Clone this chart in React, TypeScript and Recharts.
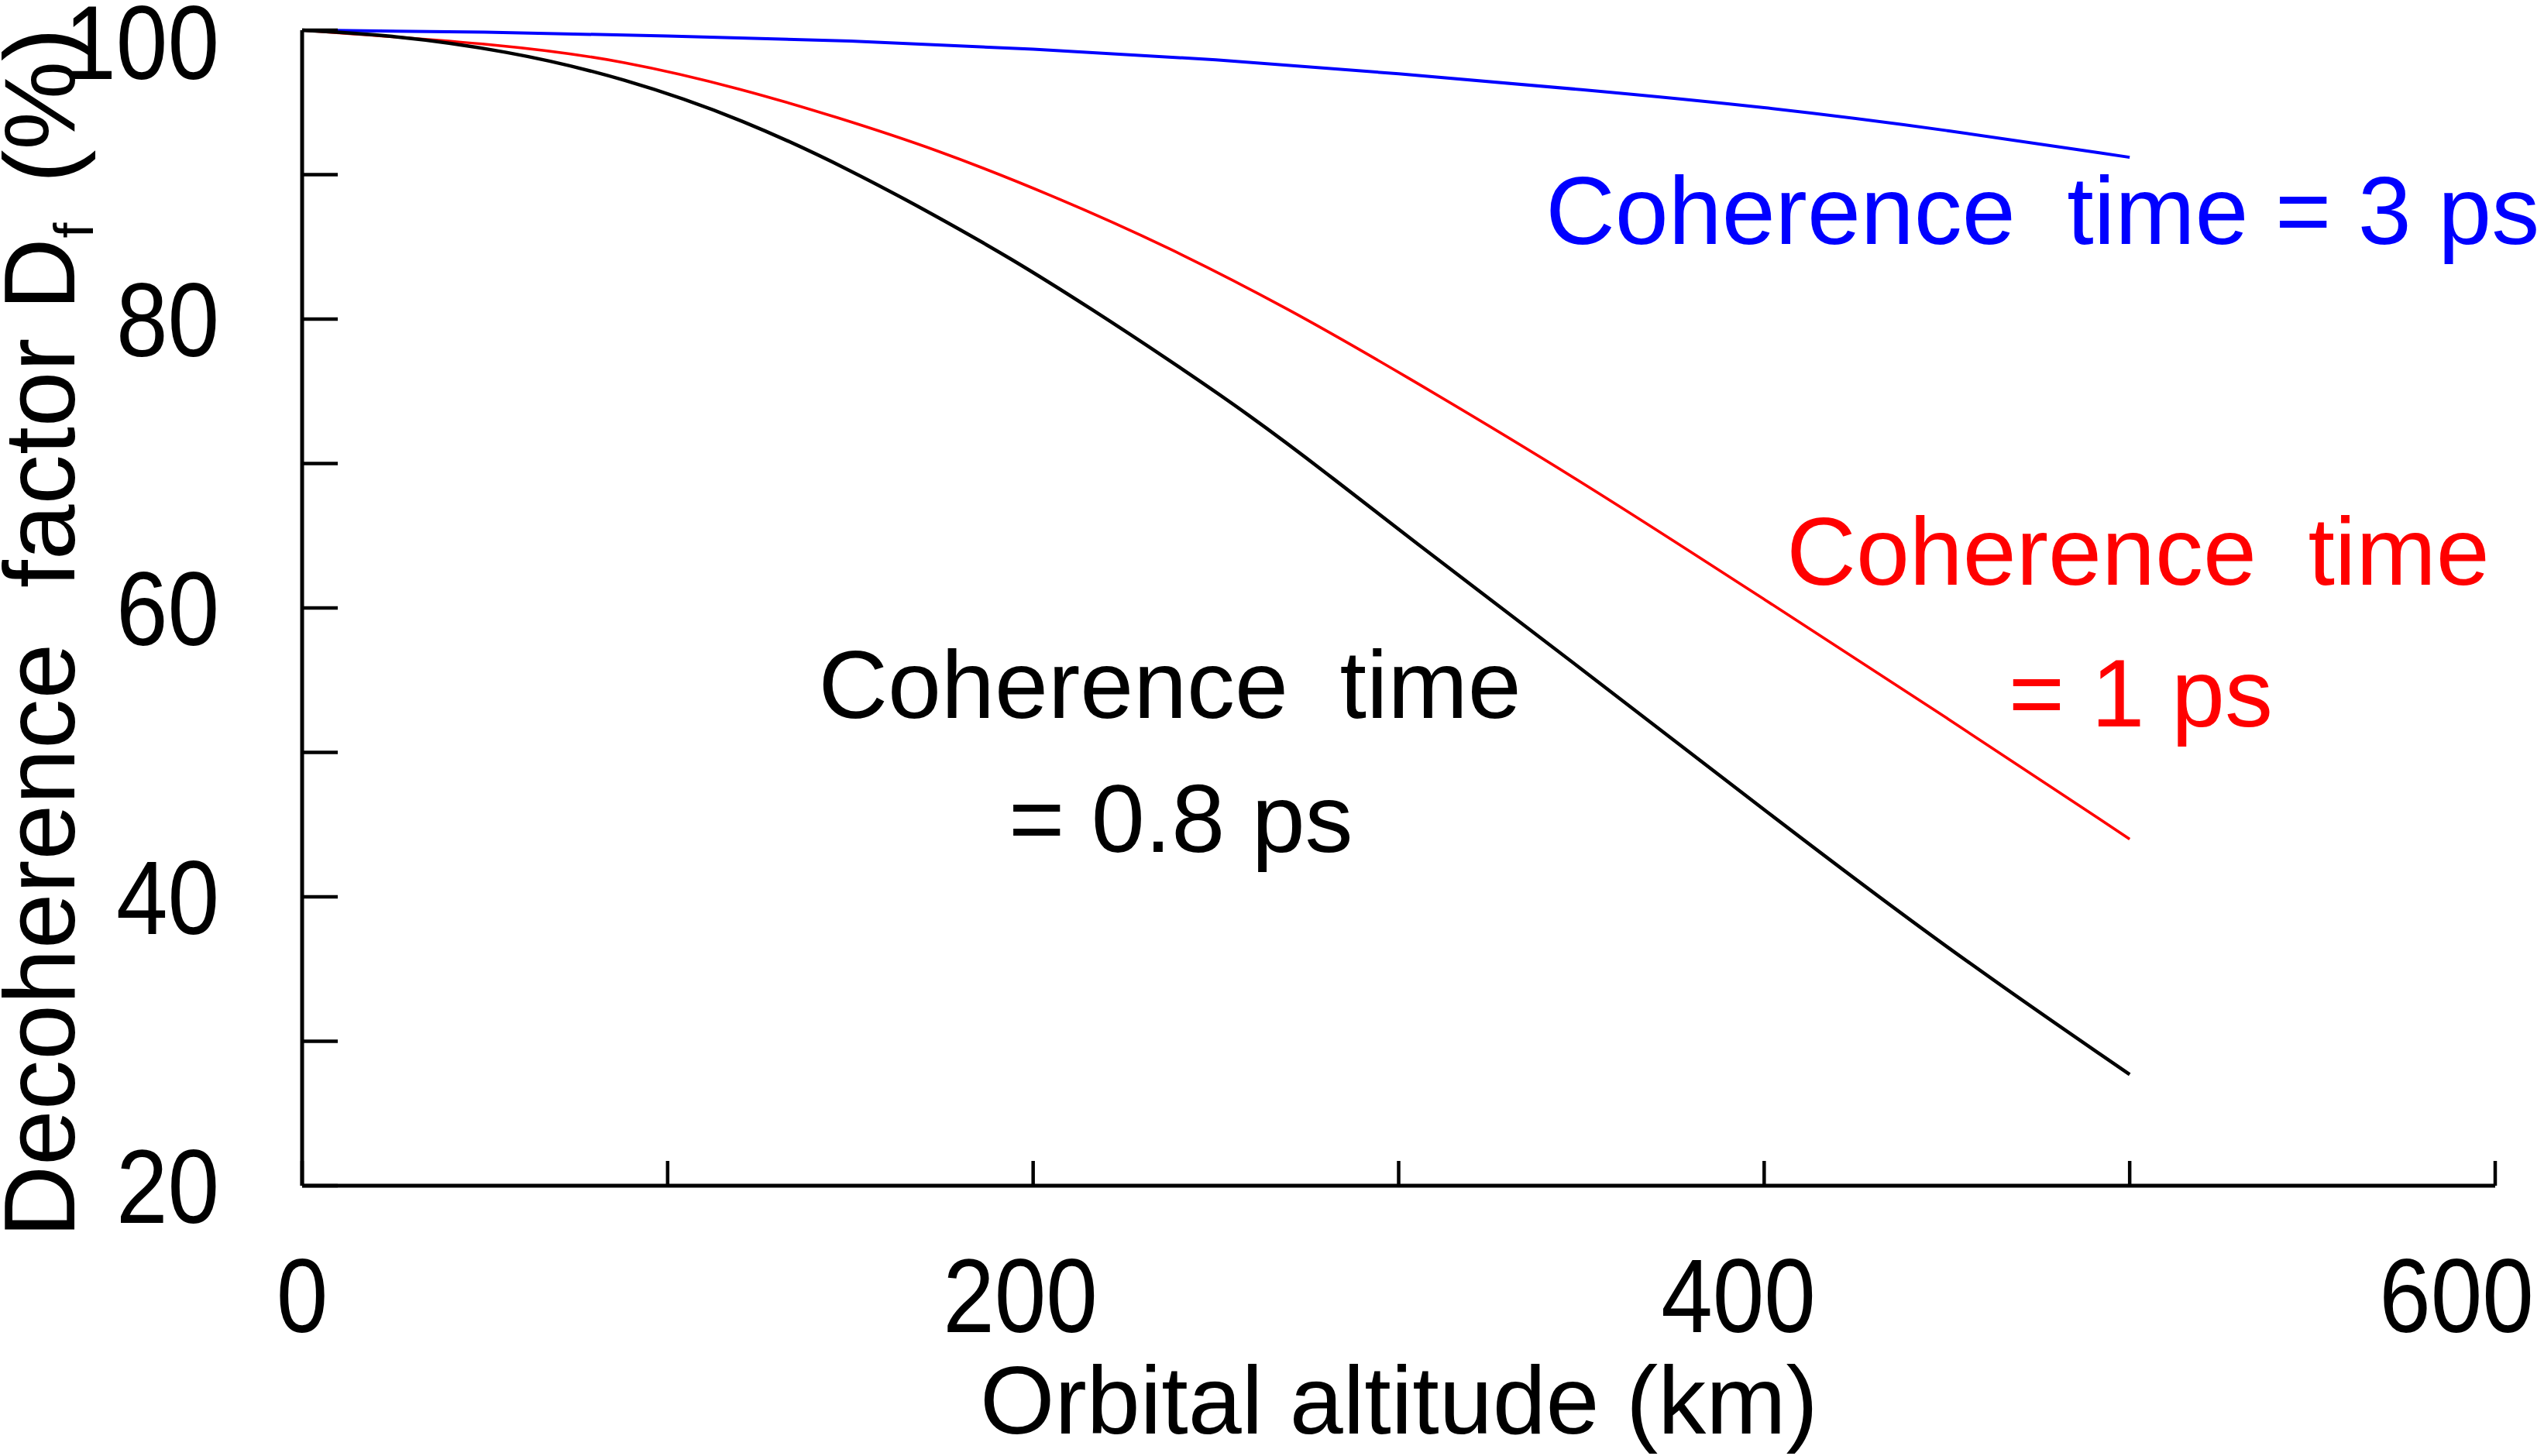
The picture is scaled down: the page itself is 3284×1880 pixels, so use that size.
import { LineChart, Line, XAxis, YAxis, ReferenceDot, Label } from "recharts"

// x = orbital altitude (km), y = decoherence factor (%)
const km08ps = [0, 23, 56, 88, 121, 151, 173, 194, 216, 237, 259, 281, 300, 350, 400, 450, 500]
const df08ps = [100, 99.7, 98.6, 96.7, 93.8, 90.2, 87.2, 84.2, 80.7, 77.2, 73.4, 69.2, 65.4, 55.8, 46.0, 36.4, 27.7]

const km1ps = [0, 56, 88, 121, 146, 173, 205, 237, 270, 299, 350, 400, 450, 500]
const df1ps = [100, 99.0, 97.9, 95.9, 94.0, 91.8, 88.6, 85.0, 80.7, 76.5, 68.8, 60.6, 52.4, 44.0]

const km3ps = [0, 50, 100, 150, 200, 250, 300, 350, 400, 450, 500]
const df3ps = [100, 99.9, 99.6, 99.3, 98.7, 98.0, 97.0, 95.9, 94.7, 93.1, 91.2]

const xTicks = [0, 100, 200, 300, 400, 500, 600]
const yTicks = [20, 30, 40, 50, 60, 70, 80, 90, 100]

const notes = [
    { x: 340.2, y: 85.2, first: 'Coherence', rest: ' time = 3 ps', color: '#0000FF', anchor: 'start' },
    { x: 502.3, y: 61.6, first: 'Coherence', rest: ' time', color: '#FF0000', anchor: 'middle' },
    { x: 503, y: 51.8, first: '= 1 ps', rest: '', color: '#FF0000', anchor: 'middle' },
    { x: 237.4, y: 52.4, first: 'Coherence', rest: ' time', color: '#000000', anchor: 'middle' },
    { x: 240.4, y: 43.1, first: '= 0.8 ps', rest: '', color: '#000000', anchor: 'middle' },
]

const toRows = (xs: number[], ys: number[]) => xs.map((km, i) => ({ km, df: ys[i] }))
const data08 = toRows(km08ps, df08ps)
const data1 = toRows(km1ps, df1ps)
const data3 = toRows(km3ps, df3ps)

const font = '"Liberation Sans", Arial, sans-serif'

// tick labels in the original are a narrow face: tall digits, squeezed sideways
const Digits = ({ x, y, anchor, children }: any) => (
    <text
        transform={`translate(${x}, ${y}) scale(0.88, 1)`}
        textAnchor={anchor}
        fontSize={136}
        fontFamily={font}
        fill="#000"
    >
        {children}
    </text>
)

const XTick = (props: any) => {
    const { x, y, payload } = props
    const v = payload.value
    return (
        <g>
            <line x1={x} y1={y} x2={x} y2={y - 32} stroke="#000" strokeWidth={4.5} />
            {v % 200 === 0 && (
                <Digits x={x - (v / 600) * 50} y={y + 189} anchor="middle">
                    {v}
                </Digits>
            )}
        </g>
    )
}

const YTick = (props: any) => {
    const { x, y, payload } = props
    const v = payload.value
    return (
        <g>
            <line x1={x} y1={y} x2={x + 46} y2={y} stroke="#000" strokeWidth={4.5} />
            {v % 20 === 0 && (
                <Digits x={x - 107} y={y + 48 + (v === 100 ? 15 : 0)} anchor="end">
                    {v}
                </Digits>
            )}
        </g>
    )
}

const YTitle = (props: any) => {
    const { viewBox } = props
    const cx = viewBox.x + 96
    const cy = viewBox.y + 778
    return (
        <text
            x={cx}
            y={cy}
            transform={`rotate(-90, ${cx}, ${cy})`}
            textAnchor="middle"
            fontSize={129}
            fontFamily={font}
            fill="#000"
            style={{ whiteSpace: 'pre' }}
        >
            Decoherence  factor D
            <tspan fontSize={72} dy={24}>f</tspan>
            <tspan dy={-24} dx={15}> (%)</tspan>
        </text>
    )
}

const XTitle = (props: any) => {
    const { viewBox } = props
    return (
        <text x={1806} y={viewBox.y + 320} textAnchor="middle" fontSize={124} fontFamily={font} fill="#000">
            Orbital altitude (km)
        </text>
    )
}

export default function App() {
    return (
        <div style={{ position: 'absolute', left: 0, top: 0, background: '#fff' }}>
            <LineChart width={3284} height={1880} margin={{ top: 39, right: 63, left: 0, bottom: 0 }}>
                <XAxis
                    dataKey="km"
                    type="number"
                    domain={[0, 600]}
                    ticks={xTicks}
                    interval={0}
                    height={349}
                    tickSize={0}
                    tickMargin={0}
                    tickLine={false}
                    axisLine={{ stroke: '#000', strokeWidth: 5 }}
                    tick={<XTick />}
                    allowDuplicatedCategory={false}
                >
                    <Label content={<XTitle />} />
                </XAxis>
                <YAxis
                    type="number"
                    domain={[20, 100]}
                    ticks={yTicks}
                    interval={0}
                    width={390}
                    tickSize={0}
                    tickMargin={0}
                    tickLine={false}
                    axisLine={{ stroke: '#000', strokeWidth: 5 }}
                    tick={<YTick />}
                >
                    <Label content={<YTitle />} />
                </YAxis>
                <Line data={data3} type="basis" dataKey="df" stroke="#0000FF" strokeWidth={4} dot={false} activeDot={false} isAnimationActive={false} />
                <Line data={data1} type="basis" dataKey="df" stroke="#FF0000" strokeWidth={3.6} dot={false} activeDot={false} isAnimationActive={false} />
                <Line data={data08} type="basis" dataKey="df" stroke="#000000" strokeWidth={4.5} dot={false} activeDot={false} isAnimationActive={false} />
                {notes.map((n) => (
                    <ReferenceDot
                        key={n.first + n.y}
                        x={n.x}
                        y={n.y}
                        r={0}
                        ifOverflow="visible"
                        shape={(p: any) => (
                            <text
                                x={p.cx}
                                y={p.cy}
                                textAnchor={n.anchor as any}
                                fontSize={124}
                                fontFamily={font}
                                fill={n.color}
                                style={{ whiteSpace: 'pre' }}
                            >
                                {n.first}
                                {n.rest && <tspan dx={32}>{n.rest}</tspan>}
                            </text>
                        )}
                    />
                ))}
            </LineChart>
        </div>
    )
}
